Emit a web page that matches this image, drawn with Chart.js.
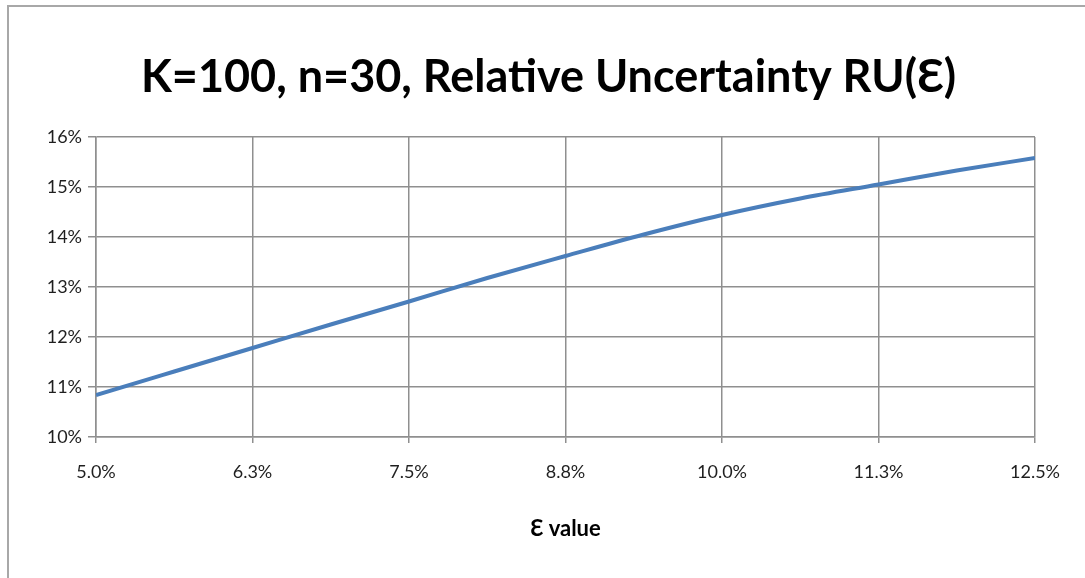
<!DOCTYPE html>
<html lang="en">
<head>
  <meta charset="UTF-8" />
  <title>Relative Uncertainty</title>
  <script src="https://cdn.jsdelivr.net/npm/chart.js@4.4.0/dist/chart.umd.min.js"></script>
  <style>
    body {
      margin: 0;
      background: #fff;
      font-family: 'Lato', sans-serif;
    }

    .frame {
      position: absolute;
      left: 7px;
      top: 5px;
      width: 1100px;
      height: 600px;
      border-left: 2px solid #a8a8a8;
      border-top: 2px solid #a8a8a8;
    }

    .chart-box {
      position: absolute;
      left: 0;
      top: 0;
      width: 1085px;
      height: 578px;
    }
  </style>
</head>
<body>
  <div class="frame"></div>
  <div class="chart-box">
    <canvas id="ruChart"></canvas>
  </div>

  <script>
    // epsilon (%) and RU (%)
    const epsValues = [5, 5.625, 6.25, 6.875, 7.5, 8.125, 8.75, 9.375, 10, 10.625, 11.25, 11.875, 12.5];
    const ruValues = [10.84, 11.31, 11.78, 12.25, 12.71, 13.18, 13.62, 14.05, 14.44, 14.77, 15.05, 15.33, 15.58];
    const xTicks = [5, 6.25, 7.5, 8.75, 10, 11.25, 12.5];
    const yTicks = [10, 11, 12, 13, 14, 15, 16];

    const gridColor = '#8f8f8f';
    const textColor = '#1f1f1f';

    const points = epsValues.map((x, i) => ({ x: x, y: ruValues[i] }));

    new Chart(document.getElementById('ruChart'), {
      type: 'line',
      data: {
        datasets: [{
          label: 'RU',
          data: points,
          borderColor: '#4a7ebb',
          borderWidth: 4,
          pointRadius: 0,
          cubicInterpolationMode: 'monotone',
          fill: false
        }]
      },
      options: {
        responsive: true,
        maintainAspectRatio: false,
        animation: false,
        layout: {
          padding: { left: 12, right: 0, top: 0, bottom: 0 }
        },
        plugins: {
          legend: { display: false },
          tooltip: { enabled: false },
          title: {
            display: true,
            text: 'Κ=100, n=30, Relative Uncertainty RU(Ɛ)',
            color: '#000',
            font: { family: 'Lato', size: 45, weight: 'bold' },
            padding: { top: 50, bottom: 33 }
          }
        },
        scales: {
          x: {
            type: 'linear',
            min: 5,
            max: 12.5,
            afterBuildTicks: (scale) => {
              scale.ticks = xTicks.map(v => ({ value: v }));
            },
            afterFit: (scale) => {
              scale.height = 141;
            },
            ticks: {
              color: textColor,
              font: { family: 'Lato', size: 18 },
              padding: 18,
              maxRotation: 0,
              callback: (v) => v.toFixed(1) + '%'
            },
            grid: {
              color: gridColor,
              lineWidth: 1.5,
              tickLength: 6
            },
            border: { color: gridColor, width: 1.5 },
            title: {
              display: true,
              text: 'Ɛ value',
              color: '#000',
              font: { family: 'Lato', size: 22, weight: 'bold' },
              padding: { top: 22, bottom: 36 }
            }
          },
          y: {
            min: 10,
            max: 16,
            afterBuildTicks: (scale) => {
              scale.ticks = yTicks.map(v => ({ value: v }));
            },
            afterFit: (scale) => {
              scale.width = 84;
            },
            ticks: {
              color: textColor,
              font: { family: 'Lato', size: 18 },
              padding: 6,
              callback: (v) => v + '%'
            },
            grid: {
              color: gridColor,
              lineWidth: 1.5,
              tickLength: 8
            },
            border: { color: gridColor, width: 1.5 }
          },
          // empty right axis, only keeps room for the last x label
          yRight: {
            position: 'right',
            min: 10,
            max: 16,
            ticks: { display: false },
            grid: { display: false, drawTicks: false },
            border: { display: false },
            afterFit: (scale) => {
              scale.width = 50;
            }
          }
        }
      }
    });
  </script>
</body>
</html>
